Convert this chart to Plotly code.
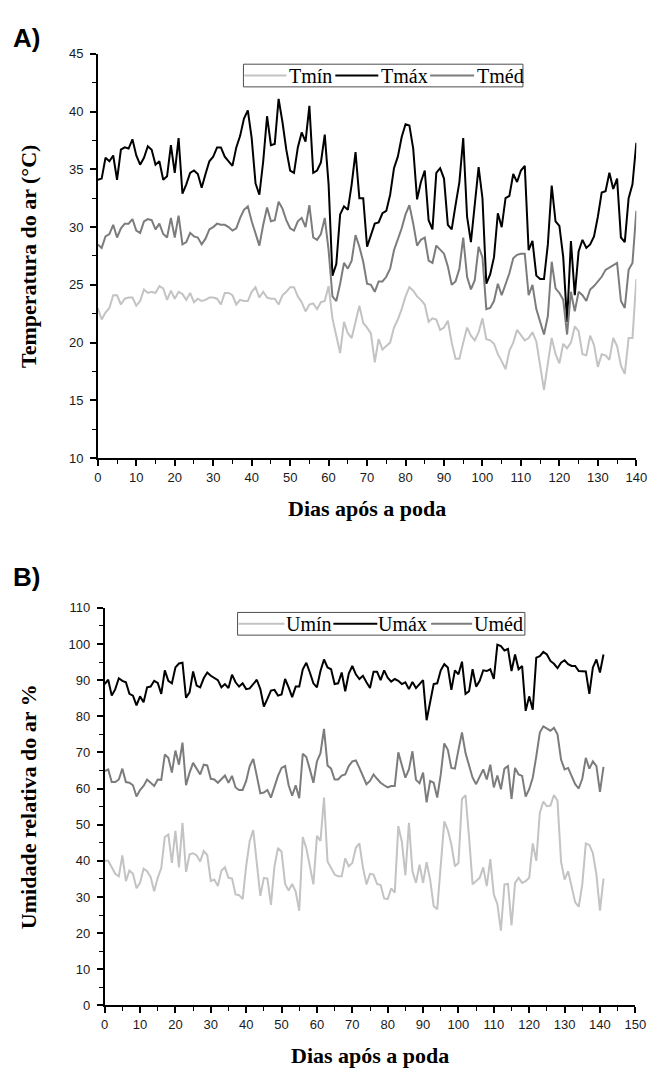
import plotly.graph_objects as go

# ---- Panel A: air temperature (°C), days 0..140 after pruning ----
t_min = [
    23.0, 22.0, 22.6, 23.0, 24.1, 24.1, 23.3, 23.8, 23.9, 23.9,
    23.2, 23.6, 24.6, 24.3, 24.4, 24.3, 24.9, 24.7, 23.7, 24.5,
    23.8, 24.4, 24.2, 23.7, 24.3, 23.5, 23.8, 23.6, 23.7, 23.9,
    23.9, 23.8, 23.3, 24.3, 24.3, 24.1, 23.3, 23.7, 23.6, 23.6,
    24.4, 24.8, 23.9, 24.4, 23.9, 23.8, 23.8, 23.3, 24.1, 24.4,
    24.8, 24.8, 24.0, 23.5, 22.7, 23.3, 23.4, 22.9, 23.5, 23.6,
    24.9, 22.1, 20.6, 19.1, 21.8, 20.8, 20.4, 21.9, 23.2, 21.7,
    21.3, 20.8, 18.3, 20.3, 19.4, 19.7, 20.0, 21.3, 22.0, 22.9,
    24.0, 24.8, 24.5, 24.0, 23.7, 23.3, 21.8, 22.1, 22.0, 21.1,
    21.3, 21.9, 20.0, 18.6, 18.6, 20.0, 21.3, 20.6, 20.2, 20.9,
    22.1, 20.3, 20.2, 19.9, 19.0, 18.4, 17.7, 19.3, 20.0, 21.1,
    20.7, 20.2, 20.4, 20.9, 20.1, 18.0, 15.9, 18.2, 20.4, 19.0,
    18.2, 19.9, 19.5, 20.0, 21.4, 21.0, 19.0, 18.9, 20.6, 19.8,
    17.9, 19.0, 18.9, 18.5, 20.4, 19.7, 18.0, 17.3, 20.4, 20.4,
    25.5,
]
t_max = [
    34.1, 34.2, 36.0, 35.7, 36.2, 34.1, 36.7, 36.9, 36.8, 37.6,
    36.2, 35.4, 36.0, 37.0, 36.7, 35.4, 35.7, 34.1, 34.4, 37.1,
    34.7, 37.7, 32.9, 33.7, 34.7, 34.9, 34.6, 33.4, 34.6, 35.7,
    36.1, 36.9, 36.9, 36.1, 35.7, 35.3, 36.9, 37.9, 39.4, 40.1,
    37.7, 33.8, 32.8, 35.7, 39.6, 37.1, 37.2, 41.1, 39.1, 36.7,
    34.9, 34.7, 36.9, 38.2, 37.4, 40.5, 34.7, 34.9, 35.6, 38.0,
    33.7, 25.8, 26.8, 31.1, 31.8, 31.5, 33.7, 36.5, 32.5, 32.5,
    28.3, 29.4, 30.3, 30.4, 31.2, 31.4, 32.8, 35.1, 36.1, 37.8,
    38.9, 38.8, 36.8, 32.4, 33.9, 34.9, 30.6, 29.8, 34.7, 35.1,
    34.2, 30.2, 29.8, 31.9, 33.9, 37.7, 30.9, 28.7, 32.2, 35.2,
    32.5, 25.1, 25.9, 27.4, 31.2, 30.0, 32.5, 32.7, 34.6, 33.9,
    34.9, 35.3, 28.0, 28.8, 25.8, 25.5, 25.5, 28.5, 33.6, 30.5,
    30.1, 27.4, 21.8, 28.8, 24.1, 27.9, 28.9, 28.2, 28.5, 29.2,
    30.9, 33.0, 33.1, 34.7, 33.3, 34.2, 29.1, 28.7, 32.5, 33.7,
    37.3,
]
t_med = [
    28.5, 28.2, 29.2, 29.4, 30.2, 29.1, 29.9, 30.3, 30.3, 30.7,
    29.7, 29.5, 30.5, 30.7, 30.6, 29.8, 30.3, 29.4, 29.1, 30.8,
    29.1, 31.0, 28.5, 28.7, 29.5, 29.2, 29.1, 28.5, 29.0, 29.8,
    30.0, 30.3, 30.2, 30.2, 30.0, 29.7, 29.9, 30.8, 31.5, 31.8,
    30.5, 29.4, 28.4, 30.2, 31.7, 30.5, 30.6, 32.2, 31.6, 30.6,
    29.9, 29.7, 30.5, 30.8, 30.0, 31.9, 29.1, 28.9, 29.4, 30.8,
    28.0, 24.0, 23.6, 25.1, 26.9, 26.4, 27.1, 29.3, 28.3, 27.0,
    25.1, 25.0, 24.4, 25.3, 25.3, 25.7, 26.4, 28.0, 28.9, 29.9,
    31.1, 31.9, 30.3, 28.4, 28.9, 29.1, 27.1, 26.9, 28.4, 28.0,
    27.7, 26.6, 25.0, 25.3, 26.4, 29.1, 25.7, 24.6, 25.4, 28.3,
    27.4, 22.9, 23.0, 23.6, 25.1, 24.1, 25.0, 26.0, 27.3, 27.6,
    27.7, 27.7, 24.1, 25.0, 22.9, 21.7, 20.7, 22.3, 27.0, 24.7,
    24.3, 23.7, 20.7, 24.4, 22.7, 24.4, 24.1, 23.6, 24.6, 24.9,
    25.3, 25.7, 26.3, 26.5, 26.7, 26.9, 23.6, 23.0, 26.3, 26.9,
    31.4,
]

# ---- Panel B: relative humidity (%), days 0..141 after pruning ----
u_min = [
    40.0, 40.0, 38.2, 36.4, 35.7, 41.5, 34.4, 37.3, 36.4, 32.4,
    33.9, 37.8, 37.1, 35.5, 31.6, 35.3, 38.0, 46.6, 47.3, 39.4,
    48.3, 38.2, 50.5, 36.9, 41.8, 42.1, 41.5, 39.8, 42.7, 41.6,
    34.4, 34.8, 33.0, 37.3, 38.2, 35.3, 35.1, 30.7, 30.5, 29.4,
    38.5, 45.5, 48.5, 40.0, 30.3, 35.3, 35.1, 27.8, 38.5, 43.6,
    42.5, 33.6, 31.8, 33.6, 31.5, 26.2, 46.6, 43.5, 38.2, 33.5,
    46.9, 45.5, 57.5, 39.8, 38.0, 36.2, 35.7, 35.7, 40.7, 38.5,
    39.4, 43.6, 44.8, 38.2, 33.5, 36.4, 36.2, 33.6, 33.3, 29.6,
    29.4, 32.4, 31.2, 49.6, 45.3, 36.0, 50.5, 37.1, 33.9, 38.9,
    33.9, 39.6, 34.8, 27.5, 26.6, 38.5, 50.9, 48.5, 44.5, 38.5,
    39.4, 57.1, 58.2, 46.6, 33.5, 34.4, 35.3, 38.2, 33.0, 40.5,
    30.7, 28.0, 20.7, 33.5, 33.6, 22.1, 33.9, 35.3, 33.9, 34.4,
    35.3, 44.8, 40.0, 53.3, 56.4, 55.1, 55.3, 58.2, 56.6, 39.8,
    34.8, 37.1, 33.0, 28.5, 27.3, 33.5, 44.8, 44.4, 42.1, 36.2,
    26.2, 35.1,
]
u_max = [
    88.9, 90.1, 85.7, 87.5, 90.5, 89.8, 89.4, 86.2, 85.7, 83.0,
    85.5, 83.9, 88.0, 88.2, 89.8, 89.2, 86.2, 92.7, 89.8, 89.1,
    93.5, 94.6, 94.8, 85.1, 86.6, 92.4, 88.5, 88.0, 90.5, 92.1,
    91.2, 90.7, 90.0, 88.0, 88.9, 87.8, 91.5, 89.4, 88.2, 89.1,
    87.5, 87.7, 88.9, 90.1, 87.5, 82.7, 84.8, 87.1, 87.3, 85.7,
    86.0, 90.3, 88.0, 85.3, 88.2, 88.2, 93.0, 94.8, 92.1, 89.1,
    88.0, 92.5, 95.7, 93.5, 93.0, 88.9, 89.1, 92.1, 86.9, 91.8,
    93.9, 91.6, 90.3, 91.2, 89.4, 87.8, 92.3, 92.3, 90.0, 92.7,
    90.7, 89.6, 90.3, 89.8, 88.9, 89.4, 87.5, 89.5, 87.8, 88.9,
    90.0, 78.9, 84.5, 88.9, 89.1, 92.7, 94.4, 93.5, 87.3, 92.7,
    91.6, 95.1, 86.2, 86.9, 93.0, 88.2, 89.8, 92.7, 92.5, 93.0,
    90.3, 99.8, 99.4, 98.2, 98.6, 92.5, 97.1, 93.0, 93.9, 81.5,
    85.5, 81.8, 96.2, 96.6, 97.8, 97.1, 95.3, 94.5, 93.3, 94.8,
    95.5, 94.4, 93.9, 93.9, 92.5, 92.5, 92.4, 86.2, 93.5, 95.7,
    92.1, 97.1,
]
u_med = [
    64.8, 65.3, 61.8, 61.8, 62.5, 65.5, 61.8, 61.6, 60.9, 57.8,
    59.6, 60.7, 62.5, 61.6, 60.7, 62.5, 62.4, 69.4, 68.5, 64.4,
    70.5, 66.6, 72.7, 60.9, 64.4, 67.1, 65.3, 63.9, 66.6, 66.4,
    62.7, 62.5, 61.6, 62.5, 63.6, 61.6, 63.5, 60.3, 59.6, 59.6,
    62.1, 66.2, 68.2, 63.5, 58.7, 58.9, 59.6, 57.5, 60.7, 63.5,
    65.7, 66.2, 60.9, 58.0, 60.9, 57.3, 69.6, 68.7, 65.3, 61.6,
    67.5, 69.8, 76.5, 66.4, 65.5, 62.5, 62.5, 63.6, 63.9, 66.2,
    67.5, 67.8, 65.7, 63.6, 61.2, 62.1, 63.9, 62.7, 61.6, 60.9,
    60.3, 60.7, 60.7, 70.0, 66.6, 63.0, 65.3, 70.3, 62.4, 61.5,
    64.4, 56.2, 62.1, 61.6, 57.5, 63.9, 72.5, 70.7, 65.7, 65.5,
    70.7, 75.5, 69.8, 66.2, 63.0, 61.2, 63.5, 65.3, 62.5, 66.6,
    60.3, 63.6, 59.8, 65.5, 66.2, 57.1, 65.7, 63.9, 63.5, 57.8,
    59.8, 63.0, 68.9, 75.5, 77.2, 76.5, 76.0, 76.8, 75.0, 68.0,
    65.3, 65.7, 63.5, 61.2, 60.0, 62.7, 68.5, 65.5, 67.5, 66.2,
    59.1, 66.0,
]

LIGHT = "#c3c3c3"
MID = "#7c7c7c"
DARK = "#000000"

W, H = 661, 1077
SANS = "Liberation Sans, Arial, sans-serif"
SERIF = "Liberation Serif, Times New Roman, serif"


def px_x(p):
    return p / W


def px_y(p):
    return 1 - p / H


fig = go.Figure()

series = [
    (t_min, "Tmín", LIGHT, "x", "y"),
    (t_max, "Tmáx", DARK, "x", "y"),
    (t_med, "Tméd", MID, "x", "y"),
    (u_min, "Umín", LIGHT, "x2", "y2"),
    (u_max, "Umáx", DARK, "x2", "y2"),
    (u_med, "Uméd", MID, "x2", "y2"),
]
for values, name, color, xa, ya in series:
    fig.add_trace(go.Scatter(
        x=list(range(len(values))), y=values, name=name, mode="lines",
        line=dict(color=color, width=2), xaxis=xa, yaxis=ya, showlegend=False,
    ))


def axis(domain, rng, dtick, minor_dtick, anchor, standoff):
    return dict(
        domain=domain, range=rng, anchor=anchor, tick0=0, dtick=dtick,
        showline=True, linecolor="black", linewidth=1.6, mirror=False,
        ticks="outside", ticklen=6, tickwidth=1.5, tickcolor="black",
        ticklabelstandoff=standoff,
        minor=dict(dtick=minor_dtick, ticks="outside", ticklen=4,
                   tickwidth=1.3, tickcolor="black", showgrid=False),
        showgrid=False, zeroline=False,
        tickfont=dict(family=SANS, size=13, color="#1a1a1a"),
    )


fig.update_layout(
    width=W, height=H, margin=dict(l=0, r=0, t=0, b=0),
    paper_bgcolor="white", plot_bgcolor="white", showlegend=False,
    xaxis=axis([px_x(96), px_x(647)], [0, 140], 10, 5, "y", 0),
    yaxis=axis([px_y(457.5), px_y(47.5)], [10, 45], 5, 2.5, "x", 4),
    xaxis2=axis([px_x(103), px_x(646)], [0, 150], 10, 5, "y2", 0),
    yaxis2=axis([px_y(1012.5), px_y(609.3)], [0, 110], 10, 5, "x2", 4),
)

# Boxed legends: a frame, a short line sample and a label per series
shapes = []
annotations = []
legend_font = dict(family=SERIF, size=20, color="black")


def boxed_legend(box, entries):
    x0, y0, x1, y1 = box
    shapes.append(dict(type="rect", xref="paper", yref="paper",
                       x0=px_x(x0), x1=px_x(x1), y0=px_y(y1), y1=px_y(y0),
                       line=dict(color="#4d4d4d", width=1), fillcolor="rgba(0,0,0,0)"))
    yc = (y0 + y1) / 2
    for (lx0, lx1, tx), (name, color) in entries:
        shapes.append(dict(type="line", xref="paper", yref="paper",
                           x0=px_x(lx0), x1=px_x(lx1), y0=px_y(yc), y1=px_y(yc),
                           line=dict(color=color, width=2)))
        annotations.append(dict(text=name, x=px_x(tx), y=px_y(yc + 0.5),
                                xanchor="left", yanchor="middle", font=legend_font))


boxed_legend((245, 58, 531, 81), [
    ((246, 289, 290), ("Tmín", LIGHT)),
    ((339, 383, 384), ("Tmáx", DARK)),
    ((436, 481, 482), ("Tméd", MID)),
])
boxed_legend((239, 614, 533, 637), [
    ((240, 287, 287), ("Umín", LIGHT)),
    ((337, 382, 381), ("Umáx", DARK)),
    ((437, 479, 479), ("Uméd", MID)),
])

title_font = dict(family=SERIF, size=22, color="black")
panel_font = dict(family=SANS, size=26, color="black")
annotations += [
    dict(text="<b>A)</b>", x=px_x(7), y=px_y(31), xanchor="left", yanchor="middle", font=panel_font),
    dict(text="<b>B)</b>", x=px_x(7), y=px_y(578), xanchor="left", yanchor="middle", font=panel_font),
    dict(text="<b>Temperatura do ar (°C)</b>", x=px_x(25), y=px_y(253), textangle=-90,
         xanchor="center", yanchor="middle", font=title_font),
    dict(text="<b>Dias após a poda</b>", x=px_x(371), y=px_y(509),
         xanchor="center", yanchor="middle", font=title_font),
    dict(text="<b>Umidade relativa do ar %</b>", x=px_x(25), y=px_y(811), textangle=-90,
         xanchor="center", yanchor="middle", font=title_font),
    dict(text="<b>Dias após a poda</b>", x=px_x(375), y=px_y(1063),
         xanchor="center", yanchor="middle", font=title_font),
]
for a in annotations:
    a.update(xref="paper", yref="paper", showarrow=False)

fig.update_layout(shapes=shapes, annotations=annotations)

fig.write_html("out.html")
